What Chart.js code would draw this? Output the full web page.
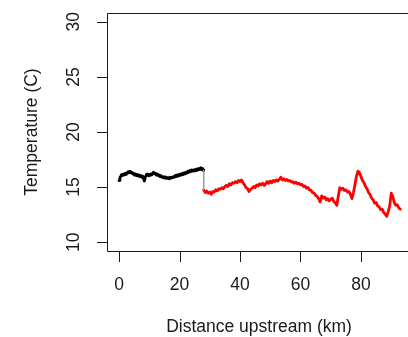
<!DOCTYPE html>
<html>
<head>
<meta charset="utf-8">
<script src="https://cdn.jsdelivr.net/npm/chart.js@4"></script>
<style>
  html, body { margin: 0; padding: 0; background: #fff; overflow: hidden; }
  #wrap { width: 408px; height: 337px; position: relative; }
</style>
</head>
<body>
<div id="wrap"><canvas id="c" width="408" height="337"></canvas></div>
<script>
// ---- data ----
const xTicks = [0, 20, 40, 60, 80];
const yTicks = [10, 15, 20, 25, 30];
const xTitle = "Distance upstream (km)";
const yTitle = "Temperature (C)";

// downstream reach (black)
const distA = [0,0.3,0.6,0.9,1.2,1.5,1.8,2.1,2.4,2.7,3.0,3.3,3.6,3.9,4.2,4.5,4.8,5.1,5.4,5.7,6.0,6.3,6.6,6.9,7.2,7.5,7.8,8.1,8.4,8.7,9.0,9.3,9.6,9.9,10.2,10.5,10.8,11.1,11.4,11.7,12.0,12.3,12.6,12.9,13.2,13.5,13.8,14.1,14.4,14.7,15.0,15.3,15.6,15.9,16.2,16.5,16.8,17.1,17.4,17.7,18.0,18.3,18.6,18.9,19.2,19.5,19.8,20.1,20.4,20.7,21.0,21.3,21.6,21.9,22.2,22.5,22.8,23.1,23.4,23.7,24.0,24.3,24.6,24.9,25.2,25.5,25.8,26.1,26.4,26.7,27.0,27.3,27.6,27.9,28.0];
const tempA = [15.6,15.85,16.0,16.15,16.05,16.2,16.1,16.25,16.15,16.3,16.4,16.3,16.45,16.3,16.35,16.2,16.25,16.1,16.2,16.05,16.15,16.0,16.1,15.95,16.05,15.9,16.0,15.8,15.55,15.9,16.1,16.2,16.05,16.15,16.05,16.2,16.1,16.25,16.35,16.2,16.25,16.1,16.2,16.05,16.1,15.95,16.05,15.9,15.95,15.85,15.95,15.8,15.9,15.8,15.85,15.75,15.9,15.8,15.9,15.85,15.95,15.9,16.05,15.95,16.1,16.0,16.15,16.05,16.2,16.1,16.25,16.15,16.3,16.2,16.35,16.3,16.45,16.35,16.5,16.4,16.55,16.45,16.55,16.45,16.6,16.5,16.65,16.55,16.7,16.6,16.75,16.6,16.7,16.5,16.55];

// connector between reaches (thin grey)
const distJ = [28.0, 28.0];
const tempJ = [16.55, 14.75];

// upstream reach (red)
const distB = [28.0,28.5,29.0,29.5,30.0,30.5,31.0,31.5,32.0,32.5,33.0,33.5,34.0,34.5,35.0,35.5,36.0,36.5,37.0,37.5,38.0,38.5,39.0,39.5,40.0,40.5,41.0,41.5,42.0,42.5,43.0,43.5,44.0,44.5,45.0,45.5,46.0,46.5,47.0,47.5,48.0,48.5,49.0,49.5,50.0,50.5,51.0,51.5,52.0,52.5,53.0,53.5,54.0,54.5,55.0,55.5,56.0,56.5,57.0,57.5,58.0,58.5,59.0,59.5,60.0,60.5,61.0,61.5,62.0,62.5,63.0,63.5,64.0,64.5,65.0,65.5,66.0,66.5,67.0,67.5,68.0,68.5,69.0,69.5,70.0,70.5,71.0,71.5,72.0,72.5,73.0,73.5,74.0,74.5,75.0,75.5,76.0,76.5,77.0,77.5,78.0,78.5,79.0,79.5,80.0,80.5,81.0,81.5,82.0,82.5,83.0,83.5,84.0,84.5,85.0,85.5,86.0,86.5,87.0,87.5,88.0,88.5,89.0,89.5,90.0,90.5,91.0,91.5,92.0,92.5,93.0];
const tempB = [14.75,14.5,14.65,14.45,14.55,14.35,14.6,14.55,14.75,14.65,14.85,14.8,14.95,14.85,15.05,15.15,15.05,15.3,15.2,15.4,15.35,15.5,15.4,15.6,15.5,15.65,15.4,15.2,14.95,14.85,14.6,14.8,14.9,15.05,14.95,15.2,15.1,15.3,15.2,15.35,15.15,15.3,15.5,15.35,15.55,15.4,15.6,15.5,15.65,15.55,15.7,15.9,15.65,15.75,15.6,15.7,15.55,15.6,15.45,15.5,15.35,15.45,15.3,15.35,15.2,15.25,15.05,15.1,14.9,14.95,14.75,14.7,14.5,14.45,14.25,14.15,13.95,13.65,14.2,14.0,14.1,13.85,13.95,13.75,13.9,14.0,13.7,13.55,13.35,14.2,14.95,14.8,14.9,14.7,14.75,14.55,14.6,14.35,13.95,14.5,15.2,16.0,16.45,16.3,15.95,15.6,15.4,15.05,14.85,14.5,14.35,14.0,13.85,13.55,13.6,13.3,13.2,12.95,13.0,12.7,12.55,12.35,12.8,13.3,14.45,14.15,13.6,13.35,13.4,13.1,13.0];

const toXY = (xs, ys) => xs.map((x, i) => ({ x: x, y: ys[i] }));

const FONT = '"Liberation Sans", Arial, Helvetica, sans-serif';
const INK = '#1a1a1a';

const rAxes = {
  id: 'rAxes',
  afterDraw(chart) {
    const ctx = chart.ctx;
    const a = chart.chartArea;
    const xs = chart.scales.x, ys = chart.scales.y;
    ctx.save();
    ctx.strokeStyle = INK;
    ctx.lineWidth = 1;
    // box (left, top, bottom; right side is outside the picture)
    ctx.beginPath();
    ctx.moveTo(a.right + 2, Math.round(a.top) + 0.5);
    ctx.lineTo(Math.round(a.left) + 0.5, Math.round(a.top) + 0.5);
    ctx.lineTo(Math.round(a.left) + 0.5, Math.round(a.bottom) + 0.5);
    ctx.lineTo(a.right + 2, Math.round(a.bottom) + 0.5);
    ctx.stroke();
    // y ticks
    ctx.beginPath();
    yTicks.forEach(v => {
      const p = Math.round(ys.getPixelForValue(v)) + 0.5;
      ctx.moveTo(Math.round(a.left) + 0.5, p);
      ctx.lineTo(Math.round(a.left) - 10, p);
    });
    // x ticks
    xTicks.forEach(v => {
      const p = Math.round(xs.getPixelForValue(v)) + 0.5;
      ctx.moveTo(p, Math.round(a.bottom) + 0.5);
      ctx.lineTo(p, Math.round(a.bottom) + 11);
    });
    ctx.stroke();
    // labels
    ctx.fillStyle = INK;
    ctx.font = '17.5px ' + FONT;
    ctx.textAlign = 'center';
    ctx.textBaseline = 'middle';
    xTicks.forEach(v => {
      ctx.fillText(String(v), xs.getPixelForValue(v), 285);
    });
    yTicks.forEach(v => {
      ctx.save();
      ctx.translate(74.5, ys.getPixelForValue(v));
      ctx.rotate(-Math.PI / 2);
      ctx.fillText(String(v), 0, 0);
      ctx.restore();
    });
    // titles
    ctx.fillText(xTitle, 259, 327);
    ctx.save();
    ctx.translate(32, (a.top + a.bottom) / 2);
    ctx.rotate(-Math.PI / 2);
    ctx.fillText(yTitle, 0, 0);
    ctx.restore();
    ctx.restore();
  }
};

new Chart(document.getElementById('c'), {
  type: 'line',
  data: {
    datasets: [
      { data: toXY(distJ, tempJ), borderColor: '#9a9a9a', borderWidth: 1, pointRadius: 0 },
      { data: toXY(distA, tempA), borderColor: '#000000', borderWidth: 2.8, pointRadius: 0 },
      { data: toXY(distB, tempB), borderColor: '#ff0000', borderWidth: 2.8, pointRadius: 0 }
    ]
  },
  options: {
    responsive: false,
    animation: false,
    devicePixelRatio: 1,
    layout: { padding: { left: 107, top: 13, right: 0, bottom: 86 } },
    plugins: { legend: { display: false }, tooltip: { enabled: false } },
    elements: { line: { tension: 0, borderJoinStyle: 'round', borderCapStyle: 'round' } },
    scales: {
      x: { type: 'linear', display: false, min: -3.97, max: 95.54 },
      y: { type: 'linear', display: false, min: 9.2, max: 30.8 }
    }
  },
  plugins: [rAxes]
});
</script>
</body>
</html>
